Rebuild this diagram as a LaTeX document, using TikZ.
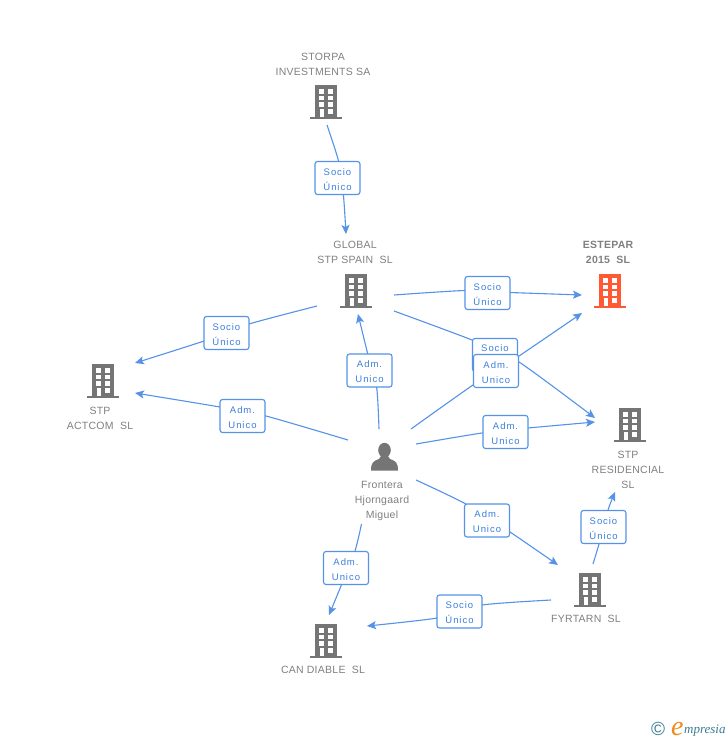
\documentclass[tikz,border=0pt]{standalone}
\usepackage{fontspec}
\setmainfont[LetterSpace=2.5]{Liberation Sans}
\newfontfamily\lblfont[LetterSpace=10]{Liberation Sans}
\newfontfamily\logofont{Liberation Serif}
\usetikzlibrary{arrows.meta}
\definecolor{linkblue}{HTML}{5592E8}
\definecolor{textblue}{HTML}{3C7FDC}
\definecolor{icongray}{HTML}{757575}
\definecolor{txtgray}{HTML}{808080}
\definecolor{iconred}{HTML}{FF5A33}
\definecolor{logoteal}{HTML}{3A7D94}
\definecolor{logoorange}{HTML}{F08A1D}
\newcommand{\lowr}[1]{\raisebox{-4.5pt}[0pt][0pt]{#1}}
\newcommand{\admtext}{\lowr{Adm.}\hspace{4.5pt}\\\lowr{Unico}\hspace{1.5pt}}
\newcommand{\soctext}{\lowr{Socio}\hspace{1pt}\\\lowr{Único}\hspace{1pt}}
\tikzset{
  conn/.style={draw=linkblue,line width=1.1pt,-{Stealth[length=9pt,width=8pt,inset=2pt]}},
  linkbox/.style={draw=linkblue,line width=1.1pt,fill=white,rounded corners=2.5pt,minimum width=45pt,minimum height=33pt,inner sep=0pt,align=center,text=textblue,font=\lblfont\fontsize{9.5}{15}\selectfont},
  entity/.style={text=txtgray,align=center,inner sep=0pt,font=\fontsize{10.5}{15}\selectfont},
  pics/building/.style={code={
    \fill[#1] (-11,-17) rectangle (11,16);
    \fill[#1] (-16,14.5) rectangle (16,17);
    \foreach \yy in {-12.7,-6,0.3}{
      \fill[white] (-7,\yy) rectangle (-2,\yy+4.4);
      \fill[white] (2,\yy) rectangle (7,\yy+4.4);
    }
    \fill[white] (-6,6.7) rectangle (-2,14.5);
    \fill[white] (2,6.7) rectangle (7,11.7);
  }}
}
\begin{document}
\begin{tikzpicture}[x=1pt,y=-1pt]
\useasboundingbox (0,0) rectangle (728,740);
\fill[white] (0,0) rectangle (728,740);

% icons
\pic at (326,102) {building=icongray};
\pic at (356,291) {building=icongray};
\pic at (610,291) {building=iconred};
\pic at (103,381) {building=icongray};
\pic at (630,425) {building=icongray};
\pic at (590,590) {building=icongray};
\pic at (326,641) {building=icongray};
\fill[icongray] (384.5,450.2) ellipse (6.3 and 7.4);
\fill[icongray] (371,470.5) .. controls (371,463) and (373,461) .. (379,459) -- (381,456) -- (388,456) -- (390,459) .. controls (396,461) and (398,463) .. (398,470.5) -- cycle;

% entity labels
\node[entity] (storpa) at (323,64) {STORPA\\INVESTMENTS SA};
\node[entity] (global) at (355,252.5) {GLOBAL\\STP SPAIN\ \ SL};
\node[entity,font=\bfseries\fontsize{10.5}{15}\selectfont] (estepar) at (608,252.5) {ESTEPAR\\2015\ \ SL};
\node[entity] (actcom) at (100,418) {STP\\ACTCOM\ \ SL};
\node[entity] (resid) at (628,470) {STP\\RESIDENCIAL\\SL};
\node[entity] (frontera) at (382,501) {Frontera\\Hjorngaard\\Miguel};
\node[entity] (fyrtarn) at (586,619) {FYRTARN\ \ SL};
\node[entity] (candiable) at (323,670) {CAN DIABLE\ \ SL};

% connector ends and the points where each enters and leaves its label
\coordinate (s1) at (327,125);  \coordinate (a1) at (338.5,161);  \coordinate (b1) at (343.5,196);  \coordinate (e1) at (346,234);
\coordinate (s2) at (394,295);  \coordinate (a2) at (465,290.5);  \coordinate (b2) at (510,292.5);  \coordinate (e2) at (582,295);
\coordinate (s3) at (317,306);  \coordinate (a3) at (249,324);    \coordinate (b3) at (204,341);    \coordinate (e3) at (135,363);
\coordinate (s4) at (394,311);  \coordinate (a4) at (472,340);    \coordinate (b4) at (519,362);    \coordinate (e4) at (595,418);
\coordinate (s5) at (379,429);  \coordinate (a5) at (376.7,388);  \coordinate (b5) at (367.5,353);  \coordinate (e5) at (358,314);
\coordinate (s6) at (348,440);  \coordinate (a6) at (266,416);    \coordinate (b6) at (220,407);    \coordinate (e6) at (135,393);
\coordinate (s7) at (411,429);  \coordinate (a7) at (473,385);    \coordinate (b7) at (519,356);    \coordinate (e7) at (582,313);
\coordinate (s8) at (416,444);  \coordinate (a8) at (482,433);    \coordinate (b8) at (528,428);    \coordinate (e8) at (595,422);
\coordinate (s9) at (416,480);  \coordinate (a9) at (465,503.5);  \coordinate (b9) at (510,532);    \coordinate (e9) at (558,565);
\coordinate (s10) at (361.5,524); \coordinate (a10) at (355,551); \coordinate (b10) at (341,586);   \coordinate (e10) at (329,615);
\coordinate (s11) at (551,600); \coordinate (a11) at (482,605);   \coordinate (b11) at (437,618);   \coordinate (e11) at (367,626);
\coordinate (s12) at (593,564); \coordinate (a12) at (599,544);   \coordinate (b12) at (608,510);   \coordinate (e12) at (615,492);

% connectors
\foreach \i in {1,...,12}{
  \draw[conn] plot[smooth,tension=0.4] coordinates {(s\i) (a\i) (b\i) (e\i)};
}

% link labels
\node[linkbox] (l1) at (337.5,178) {\soctext};
\node[linkbox] (l2) at (487.5,293) {\soctext};
\node[linkbox] (l3) at (226.5,333) {\soctext};
\node[linkbox] (l4) at (495,355) {\lowr{Socio}\\\phantom{Único}};
\node[linkbox] (l5) at (369.5,370.5) {\admtext};
\node[linkbox] (l6) at (242.5,416) {\admtext};
\node[linkbox] (l7) at (496,371) {\admtext};
\node[linkbox] (l8) at (505.5,432) {\admtext};
\node[linkbox] (l9) at (487,520.5) {\admtext};
\node[linkbox] (l10) at (346,568) {\admtext};
\node[linkbox] (l11) at (459.5,611.5) {\soctext};
\node[linkbox] (l12) at (603.5,527) {\soctext};

% logo
\node[text=logoteal,inner sep=0pt,font=\fontsize{19}{19}\selectfont] (copyr) at (658,728.5) {©};
\node[anchor=base west,inner sep=0pt,text=logoorange,font=\logofont\itshape\fontsize{28}{28}\selectfont] (logoe) at (671,735) {e};
\node[anchor=base west,inner sep=0pt,text=logoteal,font=\logofont\itshape\fontsize{13}{13}\selectfont] (logot) at (684,733.5) {mpresia};
\end{tikzpicture}
\end{document}
